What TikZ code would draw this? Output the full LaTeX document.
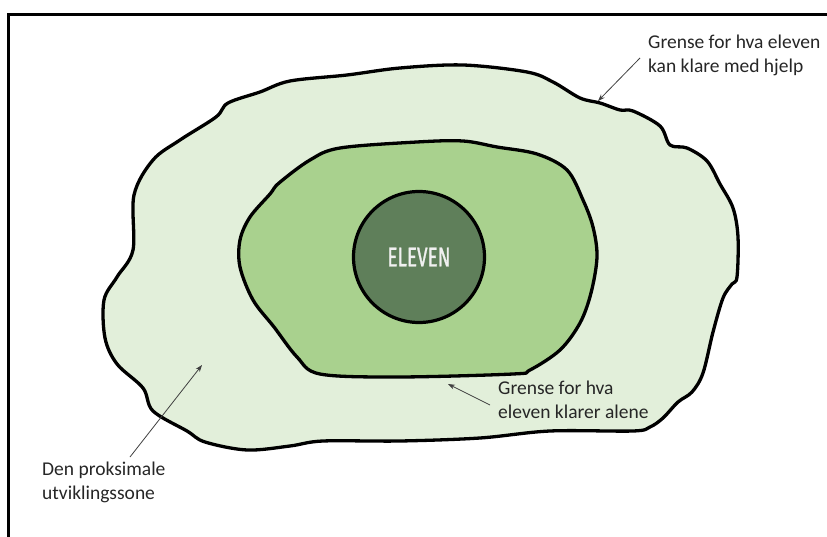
\documentclass[tikz,border=0pt]{standalone}
\usepackage{fontspec}
\setmainfont{Carlito}
\newfontfamily\elevenfont[FakeStretch=0.7, FakeBold=1]{Fira Sans}
\usepackage{xcolor}
\usetikzlibrary{arrows.meta,positioning}

\definecolor{zoneout}{HTML}{E2EFDA}
\definecolor{zonein}{HTML}{A9D18E}
\definecolor{selfcol}{HTML}{5F7F5A}
\definecolor{pointer}{HTML}{404040}

\begin{document}
\begin{tikzpicture}[
    x=1pt, y=-1pt,
    border/.style={draw=black, line width=3.3pt, line join=round},
    label/.style={anchor=north west, inner sep=0pt, align=left, text=black!85,
        font=\fontsize{19.5}{23.5}\selectfont},
    pointer/.style={draw=pointer, line width=0.8pt, -{Stealth[length=7pt, width=5pt]}}
]
\useasboundingbox (0,0) rectangle (827,537);
\draw[line width=3pt] (827,15) -- (8,15) -- (8,537);

% outer zone
\draw[border, fill=zoneout] plot[smooth cycle, tension=0.55] coordinates {
    (400,68) (463,65) (527,72) (553,82) (580,98) (600,103) (620,110) (633,111)
    (660,126) (670,145) (687,148) (707,161) (720,184) (733,208) (738,237)
    (737,277) (732,284) (723,298) (713,332) (703,373) (692,392) (678,402)
    (663,418) (650,427) (633,431) (550,431) (480,438) (400,441) (323,441)
    (290,446) (247,450) (205,442) (187,431) (153,411) (143,388) (117,364)
    (105,338) (104,300) (117,277) (133,250) (134,195) (153,160) (180,140)
    (216,117) (228,103) (260,92) (290,81) (347,75)};

% inner zone
\draw[border, fill=zonein] plot[smooth cycle, tension=0.55] coordinates {
    (417,142) (463,141) (497,147) (537,154) (567,170) (583,200) (593,227)
    (597,257) (591,293) (580,323) (560,350) (530,370) (513,374) (397,377)
    (320,374) (297,357) (274,327) (253,300) (240,267) (240,240) (250,217)
    (270,194) (279,183) (310,160) (340,148)};

\node[circle, draw=black, line width=3.2pt, fill=selfcol, minimum size=131pt,
    text=white!94!black, font=\elevenfont\fontsize{27}{27}\selectfont] (eleven) at (419,257) {ELEVEN};

\node[label] (hjelp) at (648,35) {Grense for hva eleven\\kan klare med hjelp};
\node[label] (alene) at (498,381) {Grense for hva\\eleven klarer alene};
\node[label] (sone) at (42,462) {Den proksimale\\utviklingssone};

\coordinate (hjelptail) at (640,58);
\coordinate (hjelphead) at (598,101);
\coordinate (alenetail) at (490,405);
\coordinate (alenehead) at (448,384);
\coordinate (sonetail) at (130,457);
\coordinate (sonehead) at (202,365);

\draw[pointer] (hjelptail) -- (hjelphead);
\draw[pointer] (alenetail) -- (alenehead);
\draw[pointer] (sonetail) -- (sonehead);
\end{tikzpicture}
\end{document}
